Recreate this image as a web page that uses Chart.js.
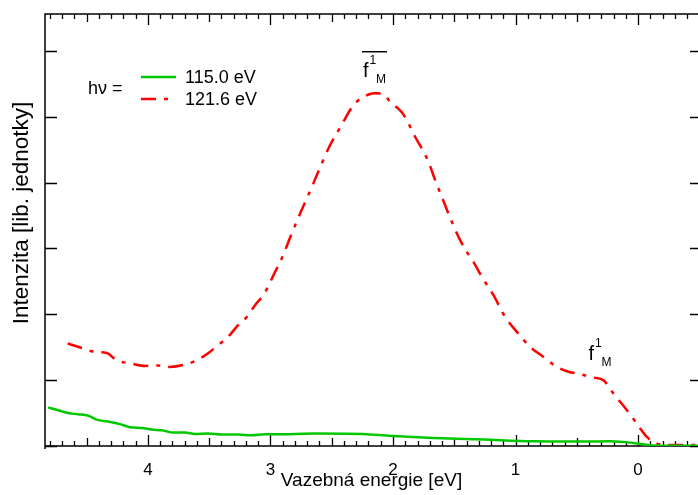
<!DOCTYPE html>
<html><head><meta charset="utf-8">
<script src="https://cdn.jsdelivr.net/npm/chart.js@4.4.1/dist/chart.umd.min.js"></script>
<style>html,body{margin:0;padding:0;background:#fff;overflow:hidden}#wrap{width:698px;height:495px;position:relative}</style>
</head><body><div id="wrap"><canvas id="c" width="698" height="495"></canvas></div>
<script>
// ---- data ----
const xTickLabels = [4, 3, 2, 1, 0];
const yTickValues = [0, 1, 2, 3, 4, 5, 6];
const seriesLabels = ['115.0 eV', '121.6 eV'];
const legendPrefix = 'h\u03BD =';
const xTitle = 'Vazebná energie [eV]';
const yTitle = 'Intenzita [lib. jednotky]';

const greenEnergy = [4.815, 4.799, 4.734, 4.652, 4.571, 4.489, 4.418, 4.326, 4.214, 4.146, 4.051, 3.969, 3.887, 3.793, 3.697, 3.616, 3.509, 3.398, 3.264, 3.153, 3.044, 2.962, 2.622, 2.214, 1.997, 1.670, 1.262, 0.854, 0.446, 0.228, 0.038, -0.099, -0.235, -0.489];
const greenIntensity = [0.585, 0.578, 0.543, 0.502, 0.482, 0.462, 0.401, 0.371, 0.325, 0.284, 0.274, 0.249, 0.239, 0.204, 0.204, 0.182, 0.188, 0.173, 0.173, 0.163, 0.178, 0.178, 0.188, 0.178, 0.152, 0.122, 0.097, 0.071, 0.067, 0.071, 0.046, 0.011, 0.004, 0.004];

const redEnergy = [4.655, 4.540, 4.432, 4.336, 4.255, 4.132, 4.024, 3.918, 3.820, 3.697, 3.602, 3.509, 3.428, 3.346, 3.264, 3.193, 3.120, 3.058, 2.962, 2.908, 2.826, 2.758, 2.691, 2.650, 2.581, 2.513, 2.459, 2.405, 2.350, 2.296, 2.187, 2.146, 2.078, 2.024, 1.928, 1.874, 1.820, 1.765, 1.711, 1.656, 1.602, 1.520, 1.452, 1.398, 1.344, 1.275, 1.180, 1.085, 0.989, 0.881, 0.772, 0.663, 0.581, 0.473, 0.364, 0.282, 0.201, 0.091, 0.010, -0.072, -0.153, -0.287, -0.489];
const redIntensity = [1.556, 1.489, 1.429, 1.413, 1.302, 1.252, 1.216, 1.222, 1.201, 1.237, 1.302, 1.409, 1.530, 1.657, 1.834, 1.960, 2.153, 2.290, 2.644, 2.848, 3.228, 3.532, 3.810, 3.988, 4.292, 4.570, 4.748, 4.924, 5.102, 5.228, 5.345, 5.356, 5.345, 5.228, 5.067, 4.900, 4.696, 4.520, 4.316, 4.038, 3.784, 3.404, 3.126, 2.948, 2.796, 2.568, 2.290, 1.960, 1.733, 1.505, 1.353, 1.201, 1.135, 1.090, 1.040, 0.998, 0.796, 0.543, 0.340, 0.137, 0.036, 0.015, 0.015];

// annotation anchors (energy, intensity)
const peakLabel = {e: 2.245, v: 5.60};
const shoulderLabel = {e: 0.405, v: 1.30};

const X_MIN = -0.489, X_MAX = 4.84, Y_MIN = 0, Y_MAX = 6.56;
const FONT = "'Liberation Sans', Arial, sans-serif";
const GREEN = '#00c800', RED = '#ff0000';
const RED_DASH = [15, 8, 4, 8];

const toPts = (xs, ys) => xs.map((x, i) => ({x, y: ys[i]}));

const framePlugin = {
  id: 'frame',
  beforeDatasetsDraw(chart) {
    const {ctx, chartArea: a, scales: {x, y}} = chart;
    ctx.save();
    ctx.strokeStyle = '#000';
    ctx.lineWidth = 1.5;
    ctx.beginPath();
    ctx.moveTo(a.left, a.bottom + 3); ctx.lineTo(a.left, a.top); ctx.lineTo(a.right, a.top);
    ctx.moveTo(a.left, a.bottom); ctx.lineTo(a.right, a.bottom);
    ctx.stroke();
    ctx.lineWidth = 1.3;
    ctx.beginPath();
    for (let i = Math.ceil(X_MIN * 10); i <= Math.floor(X_MAX * 10); i++) {
      const px = Math.round(x.getPixelForValue(i / 10)) + 0.5;
      const m = Math.abs(i);
      const len = m % 10 === 0 ? 11 : (m % 5 === 0 ? 8 : 5);
      ctx.moveTo(px, a.top); ctx.lineTo(px, a.top + len);
      ctx.moveTo(px, a.bottom); ctx.lineTo(px, a.bottom - len);
    }
    ctx.stroke();
    ctx.lineWidth = 1.5;
    ctx.beginPath();
    yTickValues.forEach(v => {
      const py = Math.round(y.getPixelForValue(v)) + 0.5;
      ctx.moveTo(a.left, py); ctx.lineTo(a.left + 12, py);
      ctx.moveTo(a.right, py); ctx.lineTo(a.right - 8, py);
    });
    ctx.stroke();
    ctx.restore();
  },
  afterDraw(chart) {
    const {ctx, chartArea: a, scales: {x, y}} = chart;
    const ds = chart.data.datasets;
    ctx.save();
    ctx.fillStyle = '#000';
    // y axis title
    ctx.save();
    ctx.translate(22, (a.top + a.bottom) / 2 - 17);
    ctx.rotate(-Math.PI / 2);
    ctx.textAlign = 'center';
    ctx.textBaseline = 'middle';
    ctx.font = `22.5px ${FONT}`;
    ctx.fillText(yTitle, 0, 0);
    ctx.restore();
    // legend
    ctx.textBaseline = 'middle';
    ctx.font = `18px ${FONT}`;
    ctx.textAlign = 'left';
    ctx.fillText(legendPrefix, 88, 89);
    const rows = [77, 99];
    ds.forEach((d, i) => {
      ctx.save();
      ctx.strokeStyle = d.borderColor;
      ctx.lineWidth = d.borderWidth;
      ctx.setLineDash(d.borderDash || []);
      ctx.beginPath();
      ctx.moveTo(141, rows[i]); ctx.lineTo(176, rows[i]);
      ctx.stroke();
      ctx.restore();
      ctx.fillText(d.label, 185, rows[i] + 1);
    });
    // annotations
    ctx.textBaseline = 'alphabetic';
    const drawF = (lab, bar) => {
      const fx = x.getPixelForValue(lab.e), fy = y.getPixelForValue(lab.v);
      ctx.font = `20px ${FONT}`;
      ctx.fillText('f', fx, fy);
      ctx.font = `12px ${FONT}`;
      ctx.fillText('1', fx + 6.5, fy - 13);
      ctx.fillText('M', fx + 13, fy + 6);
      if (bar) {
        ctx.lineWidth = 1.5; ctx.strokeStyle = '#000';
        ctx.beginPath(); ctx.moveTo(fx - 1, fy - 25.5); ctx.lineTo(fx + 24, fy - 25.5); ctx.stroke();
      }
    };
    drawF(peakLabel, true);
    drawF(shoulderLabel, false);
    ctx.restore();
  }
};

new Chart(document.getElementById('c'), {
  type: 'line',
  data: {
    datasets: [
      {label: seriesLabels[0], data: toPts(greenEnergy, greenIntensity), borderColor: GREEN, borderWidth: 2.5, pointRadius: 0, cubicInterpolationMode: 'monotone', fill: false},
      {label: seriesLabels[1], data: toPts(redEnergy, redIntensity), borderColor: RED, borderWidth: 2.5, borderDash: RED_DASH, pointRadius: 0, cubicInterpolationMode: 'monotone', fill: false}
    ]
  },
  options: {
    responsive: false,
    animation: false,
    devicePixelRatio: 1,
    layout: {padding: {top: 14, right: 0, left: 0, bottom: 0}},
    plugins: {legend: {display: false}, tooltip: {enabled: false}},
    scales: {
      x: {
        type: 'linear', reverse: true, min: X_MIN, max: X_MAX,
        afterBuildTicks: s => { s.ticks = xTickLabels.map(v => ({value: v})); },
        afterFit: s => { s.height = 49; },
        ticks: {font: {family: FONT, size: 17}, color: '#000', padding: 14, maxRotation: 0, autoSkip: false, callback: v => String(v)},
        grid: {display: false, drawTicks: false},
        border: {display: false},
        title: {display: true, text: xTitle, color: '#000', font: {family: FONT, size: 19}, padding: {top: 0, bottom: 3}}
      },
      y: {
        type: 'linear', min: Y_MIN, max: Y_MAX,
        afterBuildTicks: s => { s.ticks = yTickValues.map(v => ({value: v})); },
        afterFit: s => { s.width = 45; },
        ticks: {display: false},
        grid: {display: false, drawTicks: false},
        border: {display: false},
        title: {display: false}
      }
    }
  },
  plugins: [framePlugin]
});
</script></body></html>
